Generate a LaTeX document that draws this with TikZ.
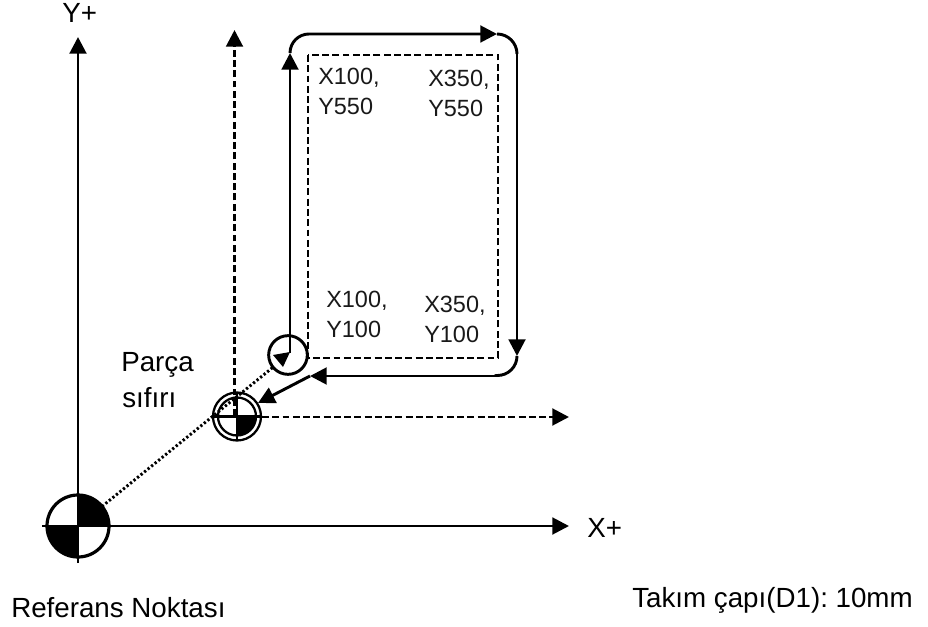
\documentclass[tikz,border=0pt]{standalone}
\usepackage{fontspec}
\setmainfont{Liberation Sans}
\usetikzlibrary{arrows.meta}
\tikzset{
  lbl/.style={inner sep=0pt,align=left,font=\fontsize{20.8pt}{25pt}\selectfont,text=black},
  lbs/.style={inner sep=0pt,align=left,font=\fontsize{17.6pt}{21pt}\selectfont,text=black!90},
  solidln/.style={line width=2.2pt,draw=black},
  dashln/.style={line width=2.2pt,draw=black,dash pattern=on 5.2pt off 2.5pt},
  dotln/.style={line width=2.2pt,draw=black,dash pattern=on 1.7pt off 1.7pt},
  tip/.style={-{Triangle[length=12.5pt,width=12.5pt]}},
}
\begin{document}
\begin{tikzpicture}[x=0.75pt,y=-0.75pt]
\useasboundingbox (0,0) rectangle (928,627);
% named points
\coordinate (O) at (78,526);
\coordinate (P) at (237,416.5);
\coordinate (T) at (288,355);
\coordinate (Ytop) at (78,37);
\coordinate (Xend) at (569,526);
\coordinate (Yptop) at (234.5,30);
\coordinate (Xpend) at (569,417);
\coordinate (A) at (290,53);
\coordinate (B) at (497,34);
\coordinate (C) at (517,54);
\coordinate (D) at (517,356);
\coordinate (E) at (498,376);
\coordinate (F) at (310,376);
\coordinate (G) at (258,403);
% dotted link
\draw[dotln,shorten <=15pt] (T) -- (O);
% axes
\draw[solidln,tip] (78,563) -- (Ytop);
\draw[solidln,tip] (42,526) -- (Xend);
% dashed axes
\draw[dashln,tip] (234.5,416) -- (Yptop);
\draw[dashln,tip] (262,417) -- (Xpend);
% dashed rectangle
\draw[dashln] (308,55) rectangle (498,358);
% tool path
\draw[solidln,tip] (290,353) -- (A);
\draw[solidln,tip] (A) arc[start angle=180,end angle=270,radius=19] -- (B);
\draw[solidln] (B) arc[start angle=270,end angle=360,radius=20] -- (C);
\draw[solidln,tip] (C) -- (D);
\draw[solidln] (D) arc[start angle=0,end angle=90,radius=19.5] -- (E);
\draw[solidln,tip] (E) -- (F);
\draw[solidln,tip] (F) -- (G);
% tool circle
\node[circle,draw,line width=2.2pt,minimum size=29pt,inner sep=0pt] (tool) at (T) {};
\fill (290,352) -- (273,355) -- (283,367) -- cycle;
% part zero
\fill (P) -- +(19,0) arc[start angle=0,end angle=90,radius=19] -- cycle;
\draw[line width=1.7pt] (P) circle[radius=24];
\draw[line width=1.7pt] (P) circle[radius=19];
\draw[line width=1.7pt] (213,416.5) -- (261,416.5);
\draw[line width=1.7pt] (237,392.5) -- (237,440.5);
% reference point
\fill[white] (O) circle[radius=31];
\draw[line width=2.2pt] (42,526) -- (115,526);
\draw[line width=2.2pt] (78,490) -- (78,563);
\fill (O) -- +(0,-31) arc[start angle=270,end angle=360,radius=31] -- cycle;
\fill (O) -- +(-31,0) arc[start angle=180,end angle=90,radius=31] -- cycle;
\draw[line width=2.4pt] (O) circle[radius=31];
% labels
\node[lbl,anchor=base west] (yp) at (62,23) {Y+};
\node[lbl,anchor=base west] (xp) at (587,537) {X+};
\node[lbl,anchor=base west] (p1) at (121,371) {Parça};
\node[lbl,anchor=base west] (p2) at (122,407) {sıfırı};
\node[lbl,anchor=base west] (ref) at (11,617) {Referans Noktası};
\node[lbl,anchor=base west] (tk) at (632,607) {Takım çapı(D1):\hspace{-2pt} 10mm};
\node[lbs,anchor=base west] (a1) at (318,85) {X100,};
\node[lbs,anchor=base west] (a2) at (318,115) {Y550};
\node[lbs,anchor=base west] (b1) at (428,87) {X350,};
\node[lbs,anchor=base west] (b2) at (428,117) {Y550};
\node[lbs,anchor=base west] (c1) at (326,308) {X100,};
\node[lbs,anchor=base west] (c2) at (326,337) {Y100};
\node[lbs,anchor=base west] (d1) at (424,312) {X350,};
\node[lbs,anchor=base west] (d2) at (424,343) {Y100};
\end{tikzpicture}
\end{document}
